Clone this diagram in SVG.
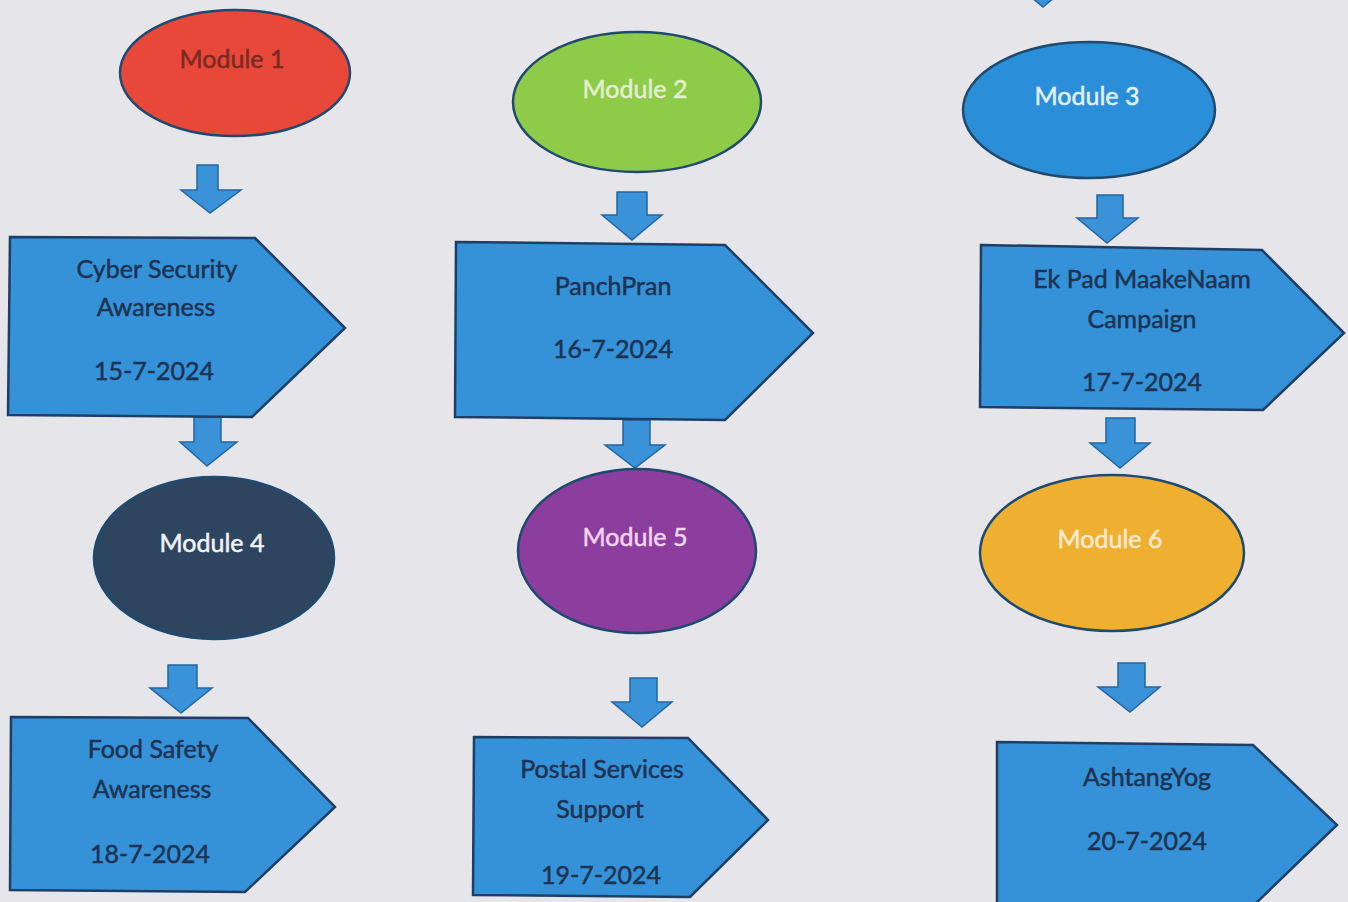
<svg xmlns="http://www.w3.org/2000/svg" width="1348" height="902" viewBox="0 0 1348 902">
<style>
.t{font-family:Lato,"Open Sans","Liberation Sans",sans-serif;font-size:25px;text-anchor:middle;dominant-baseline:central;stroke-width:0.5px}
.pt{fill:#1e3352;stroke:#1e3352}
.box{fill:#3592d8;stroke:#1d3f66;stroke-width:2.5;stroke-linejoin:miter}
.oval{stroke:#1f4a6e;stroke-width:2.5}
.arr{fill:#3a92d8;stroke:#2566a0;stroke-width:1.5;stroke-linejoin:miter}
</style>
<rect width="1348" height="902" fill="#e5e5ea"/>

<g id="connectors">
  <polygon class="arr" points="1030,-40 1056,-40 1056,-18 1073,-18 1043,7 1013,-18 1030,-18"/>
  <polygon class="arr" points="197,165 218,165 218,190 241,190 210,213 181,190 197,190"/>
  <polygon class="arr" points="194,417 221,417 221,442 237,442 207,466 180,442 194,442"/>
  <polygon class="arr" points="168,665 197,665 197,688 212,688 181,713 150,688 168,688"/>
  <polygon class="arr" points="617,192 647,192 647,215 662,215 632,240 602,215 617,215"/>
  <polygon class="arr" points="623,420 650,420 650,445 665,445 635,468 605,445 623,445"/>
  <polygon class="arr" points="630,678 657,678 657,702 672,702 642,727 612,702 630,702"/>
  <polygon class="arr" points="1097,195 1123,195 1123,218 1138,218 1107,243 1077,218 1097,218"/>
  <polygon class="arr" points="1106,418 1135,418 1135,443 1150,443 1120,468 1090,443 1106,443"/>
  <polygon class="arr" points="1118,663 1145,663 1145,687 1160,687 1130,712 1098,687 1118,687"/>
</g>

<g id="module1">
  <ellipse class="oval" cx="235" cy="73" rx="115" ry="63" fill="#e8483a" stroke="#3a3040"/>
  <text class="t" x="232" y="58" fill="#7a2a22" stroke="#7a2a22">Module 1</text>
</g>
<g id="cyber-security">
  <polygon class="box" points="10,237 255,238 345,328 252,417 8,415"/>
  <text class="t pt" x="157" y="268">Cyber Security</text>
  <text class="t pt" x="156" y="306">Awareness</text>
  <text class="t pt" x="154" y="370">15-7-2024</text>
</g>
<g id="module4">
  <ellipse class="oval" cx="214" cy="558" rx="120" ry="81" fill="#2e4560"/>
  <text class="t" x="212" y="542" fill="#f2f4f8" stroke="#f2f4f8">Module 4</text>
</g>
<g id="food-safety">
  <polygon class="box" points="11,717 248,718 335,807 245,892 10,890"/>
  <text class="t pt" x="153" y="748">Food Safety</text>
  <text class="t pt" x="152" y="788">Awareness</text>
  <text class="t pt" x="150" y="853">18-7-2024</text>
</g>

<g id="module2">
  <ellipse class="oval" cx="637" cy="102" rx="124" ry="70" fill="#8ecb48"/>
  <text class="t" x="635" y="88" fill="#e2f0d0" stroke="#e2f0d0">Module 2</text>
</g>
<g id="panchpran">
  <polygon class="box" points="456,242 725,245 813,333 725,420 455,417"/>
  <text class="t pt" x="613" y="285">PanchPran</text>
  <text class="t pt" x="613" y="348">16-7-2024</text>
</g>
<g id="module5">
  <ellipse class="oval" cx="637" cy="551" rx="119" ry="82" fill="#8c3e9e"/>
  <text class="t" x="635" y="536" fill="#f2d6f0" stroke="#f2d6f0">Module 5</text>
</g>
<g id="postal-services">
  <polygon class="box" points="474,737 688,738 768,820 690,897 473,895"/>
  <text class="t pt" x="602" y="768">Postal Services</text>
  <text class="t pt" x="600" y="808">Support</text>
  <text class="t pt" x="601" y="874">19-7-2024</text>
</g>

<g id="module3">
  <ellipse class="oval" cx="1089" cy="110" rx="126" ry="68" fill="#2a8fd8"/>
  <text class="t" x="1087" y="95" fill="#e2f0fc" stroke="#e2f0fc">Module 3</text>
</g>
<g id="ek-pad">
  <polygon class="box" points="981,245 1262,250 1344,333 1263,410 980,407"/>
  <text class="t pt" x="1142" y="278">Ek Pad MaakeNaam</text>
  <text class="t pt" x="1142" y="318">Campaign</text>
  <text class="t pt" x="1142" y="381">17-7-2024</text>
</g>
<g id="module6">
  <ellipse class="oval" cx="1112" cy="553" rx="132" ry="78" fill="#efb032" stroke="#2a3a50"/>
  <text class="t" x="1110" y="538" fill="#f8ead0" stroke="#f8ead0">Module 6</text>
</g>
<g id="ashtangyog">
  <polygon class="box" points="997,742 1253,745 1337,825 1253,906 997,904"/>
  <text class="t pt" x="1147" y="776">AshtangYog</text>
  <text class="t pt" x="1147" y="840">20-7-2024</text>
</g>
</svg>
